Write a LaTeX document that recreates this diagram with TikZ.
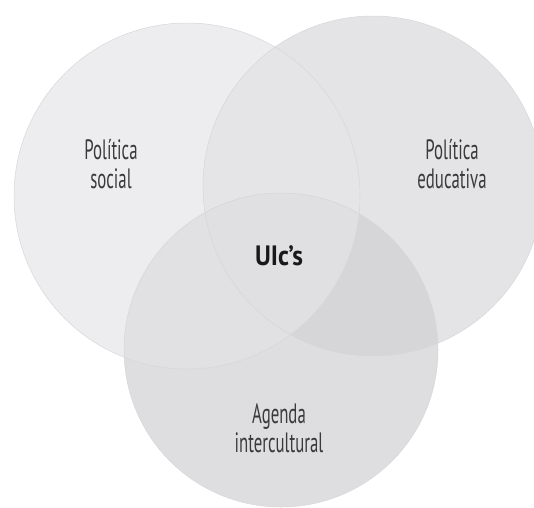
\documentclass[tikz,border=0pt]{standalone}
\usepackage{fontspec}
\setmainfont[FakeStretch=0.6]{PT Sans}
\newfontfamily\corefont[FakeStretch=0.9]{PT Sans}
\usepackage{xcolor}
\usepackage{tikz}
\usetikzlibrary{positioning}

\definecolor{lonly}{HTML}{EDEDEF}
\definecolor{ronly}{HTML}{E4E4E6}
\definecolor{bonly}{HTML}{DEDEE0}
\definecolor{lr}{HTML}{E5E5E7}
\definecolor{lb}{HTML}{E1E1E3}
\definecolor{rb}{HTML}{D6D6D8}
\definecolor{lrb}{HTML}{E0E0E2}
\definecolor{rim}{HTML}{D7D7D9}
\definecolor{labelgray}{HTML}{3A3A3C}

\newcommand{\leftcirc}{(187,196) circle[radius=173pt]}
\newcommand{\rightcirc}{(373,186) circle[radius=170pt]}
\newcommand{\bottomcirc}{(281,350) circle[radius=157pt]}

\begin{document}
\begin{tikzpicture}[x=1pt,y=-1pt,
    setlabel/.style={align=center,text=labelgray,font=\fontsize{28}{29}\selectfont},
    corelabel/.style={text=black!90,font=\corefont\fontsize{28}{29}\selectfont\bfseries}]
    \useasboundingbox (0,0) rectangle (534,507);
    \clip (0,0) rectangle (534,507);

    % Circles
    \fill[lonly] \leftcirc;
    \fill[ronly] \rightcirc;
    \fill[bonly] \bottomcirc;

    % Overlaps
    \begin{scope}
        \clip \leftcirc;
        \fill[lr] \rightcirc;
        \fill[lb] \bottomcirc;
    \end{scope}
    \begin{scope}
        \clip \rightcirc;
        \fill[rb] \bottomcirc;
        \clip \leftcirc;
        \fill[lrb] \bottomcirc;
    \end{scope}

    % Rims
    \draw[rim,line width=0.5pt] \leftcirc;
    \draw[rim,line width=0.5pt] \rightcirc;
    \draw[rim,line width=0.5pt] \bottomcirc;

    % Labels
    \node[setlabel] (social) at (111,164) {Política\\social};
    \node[setlabel] (educ) at (452,164) {Política\\educativa};
    \node[setlabel] (agenda) at (279,428) {Agenda\\intercultural};
    \node[corelabel] (uics) at (279,256) {UIc’s};
\end{tikzpicture}
\end{document}
